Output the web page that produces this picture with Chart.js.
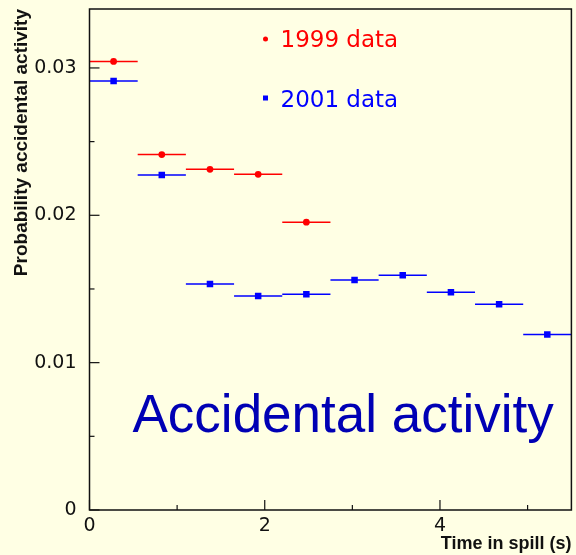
<!DOCTYPE html>
<html>
<head>
<meta charset="utf-8">
<script src="https://cdn.jsdelivr.net/npm/chart.js@4.4.1/dist/chart.umd.min.js"></script>
<style>
  html, body { margin: 0; padding: 0; background: #ffffe4; }
  #wrap { width: 576px; height: 555px; position: relative; }
</style>
</head>
<body>
<div id="wrap"><canvas id="chart"></canvas></div>
<script>
// Bin centres in spill time (s) and the half width of each bin
const timeCenters = [0.275, 0.825, 1.375, 1.925, 2.475, 3.025, 3.575, 4.125, 4.675, 5.225];
const binHalfWidth = 0.275;

// Probability of accidental activity per bin
const prob1999 = [0.03044, 0.02412, 0.02312, 0.02278, 0.01953];
const prob2001 = [0.02911, 0.02273, 0.01534, 0.01453, 0.01464, 0.01561, 0.01593, 0.01478, 0.01397, 0.01191];

// Axis ticks: labelled and small ones
const xMajorTicks = [0, 2, 4];
const xMinorTicks = [1, 3, 5];
const yMajorTicks = [0, 0.01, 0.02, 0.03];
const yMinorTicks = [0.005, 0.015, 0.025];

const seriesLabels = ['1999 data', '2001 data'];
const plotTitle = 'Accidental activity';

const BG = '#ffffe4';
const RED = '#ff0000';
const BLUE = '#0000ff';

function toPoints(values) {
  return values.map((v, i) => ({ x: timeCenters[i], y: v }));
}

// Background, frame, inner ticks, horizontal bin bars and text overlay
const rootStyle = {
  id: 'rootStyle',
  beforeDraw(chart) {
    const ctx = chart.ctx;
    ctx.save();
    ctx.fillStyle = BG;
    ctx.fillRect(0, 0, chart.width, chart.height);
    ctx.restore();
  },
  beforeDatasetsDraw(chart) {
    const ctx = chart.ctx;
    const xs = chart.scales.x, ys = chart.scales.y;
    ctx.save();
    ctx.lineWidth = 1.5;
    chart.data.datasets.forEach(ds => {
      ctx.strokeStyle = ds.borderColor;
      ds.data.forEach(p => {
        const y = ys.getPixelForValue(p.y);
        ctx.beginPath();
        ctx.moveTo(xs.getPixelForValue(p.x - binHalfWidth), y);
        ctx.lineTo(xs.getPixelForValue(p.x + binHalfWidth), y);
        ctx.stroke();
      });
    });
    ctx.restore();
  },
  afterDraw(chart) {
    const ctx = chart.ctx;
    const a = chart.chartArea;
    const xs = chart.scales.x, ys = chart.scales.y;
    ctx.save();
    ctx.strokeStyle = '#111';
    ctx.lineWidth = 1.5;
    ctx.strokeRect(a.left, a.top, a.right - a.left, a.bottom - a.top);

    ctx.lineWidth = 1.2;
    const tick = (x1, y1, x2, y2) => {
      ctx.beginPath(); ctx.moveTo(x1, y1); ctx.lineTo(x2, y2); ctx.stroke();
    };
    xMajorTicks.forEach(v => { const x = xs.getPixelForValue(v); tick(x, a.bottom, x, a.bottom - 10); });
    xMinorTicks.forEach(v => { const x = xs.getPixelForValue(v); tick(x, a.bottom, x, a.bottom - 5); });
    yMajorTicks.forEach(v => { const y = ys.getPixelForValue(v); tick(a.left, y, a.left + 10, y); });
    yMinorTicks.forEach(v => { const y = ys.getPixelForValue(v); tick(a.left, y, a.left + 5, y); });

    // legend
    const lx = a.left + 176;
    ctx.font = '23px "DejaVu Sans"';
    ctx.textBaseline = 'alphabetic';
    ctx.fillStyle = RED;
    ctx.beginPath(); ctx.arc(lx, a.top + 30, 2.5, 0, Math.PI * 2); ctx.fill();
    ctx.fillText(seriesLabels[0], lx + 15, a.top + 38);
    ctx.fillStyle = BLUE;
    ctx.fillRect(lx - 2.5, a.top + 86.5, 5, 5);
    ctx.fillText(seriesLabels[1], lx + 15, a.top + 98);

    // big caption
    ctx.font = '53px "Liberation Sans"';
    ctx.fillStyle = '#0000b4';
    ctx.fillText(plotTitle, a.left + 43, a.top + 423);
    ctx.restore();
  }
};

new Chart(document.getElementById('chart'), {
  type: 'scatter',
  data: {
    datasets: [
      {
        label: seriesLabels[0],
        data: toPoints(prob1999),
        borderColor: RED,
        backgroundColor: RED,
        pointStyle: 'circle',
        pointRadius: 3.4,
        pointBorderWidth: 0
      },
      {
        label: seriesLabels[1],
        data: toPoints(prob2001),
        borderColor: BLUE,
        backgroundColor: BLUE,
        pointStyle: 'rect',
        pointRadius: 4.6,
        pointBorderWidth: 0
      }
    ]
  },
  options: {
    responsive: true,
    maintainAspectRatio: false,
    animation: false,
    layout: { padding: { top: 9, right: 1, left: 0, bottom: 0 } },
    plugins: {
      legend: { display: false },
      tooltip: { enabled: false }
    },
    scales: {
      x: {
        type: 'linear',
        min: 0,
        max: 5.5,
        afterBuildTicks: s => { s.ticks = xMajorTicks.map(v => ({ value: v })); },
        afterFit: s => { s.height = 45; s.paddingLeft = 0; s.paddingRight = 0; },
        grid: { display: false, drawTicks: false },
        border: { display: false },
        ticks: {
          color: '#111',
          padding: 5,
          maxRotation: 0,
          font: { family: 'DejaVu Sans', size: 19 },
          callback: v => String(v)
        },
        title: {
          display: true,
          text: 'Time in spill (s)',
          align: 'end',
          color: '#111',
          padding: { top: 3, bottom: 0 },
          font: { family: 'Liberation Sans', size: 18, weight: 'bold' }
        }
      },
      y: {
        type: 'linear',
        min: 0,
        max: 0.034,
        afterBuildTicks: s => { s.ticks = yMajorTicks.map(v => ({ value: v })); },
        afterFit: s => { s.width = 89.5; s.paddingTop = 0; s.paddingBottom = 0; },
        grid: { display: false, drawTicks: false },
        border: { display: false },
        ticks: {
          color: '#111',
          padding: 13,
          font: { family: 'DejaVu Sans', size: 19 },
          callback: v => (v === 0 ? '0' : v.toFixed(2))
        },
        title: {
          display: true,
          text: 'Probability accidental activity',
          align: 'end',
          color: '#111',
          padding: { top: 10, bottom: 0 },
          font: { family: 'Liberation Sans', size: 19, weight: 'bold' }
        }
      }
    }
  },
  plugins: [rootStyle]
});
</script>
</body>
</html>
